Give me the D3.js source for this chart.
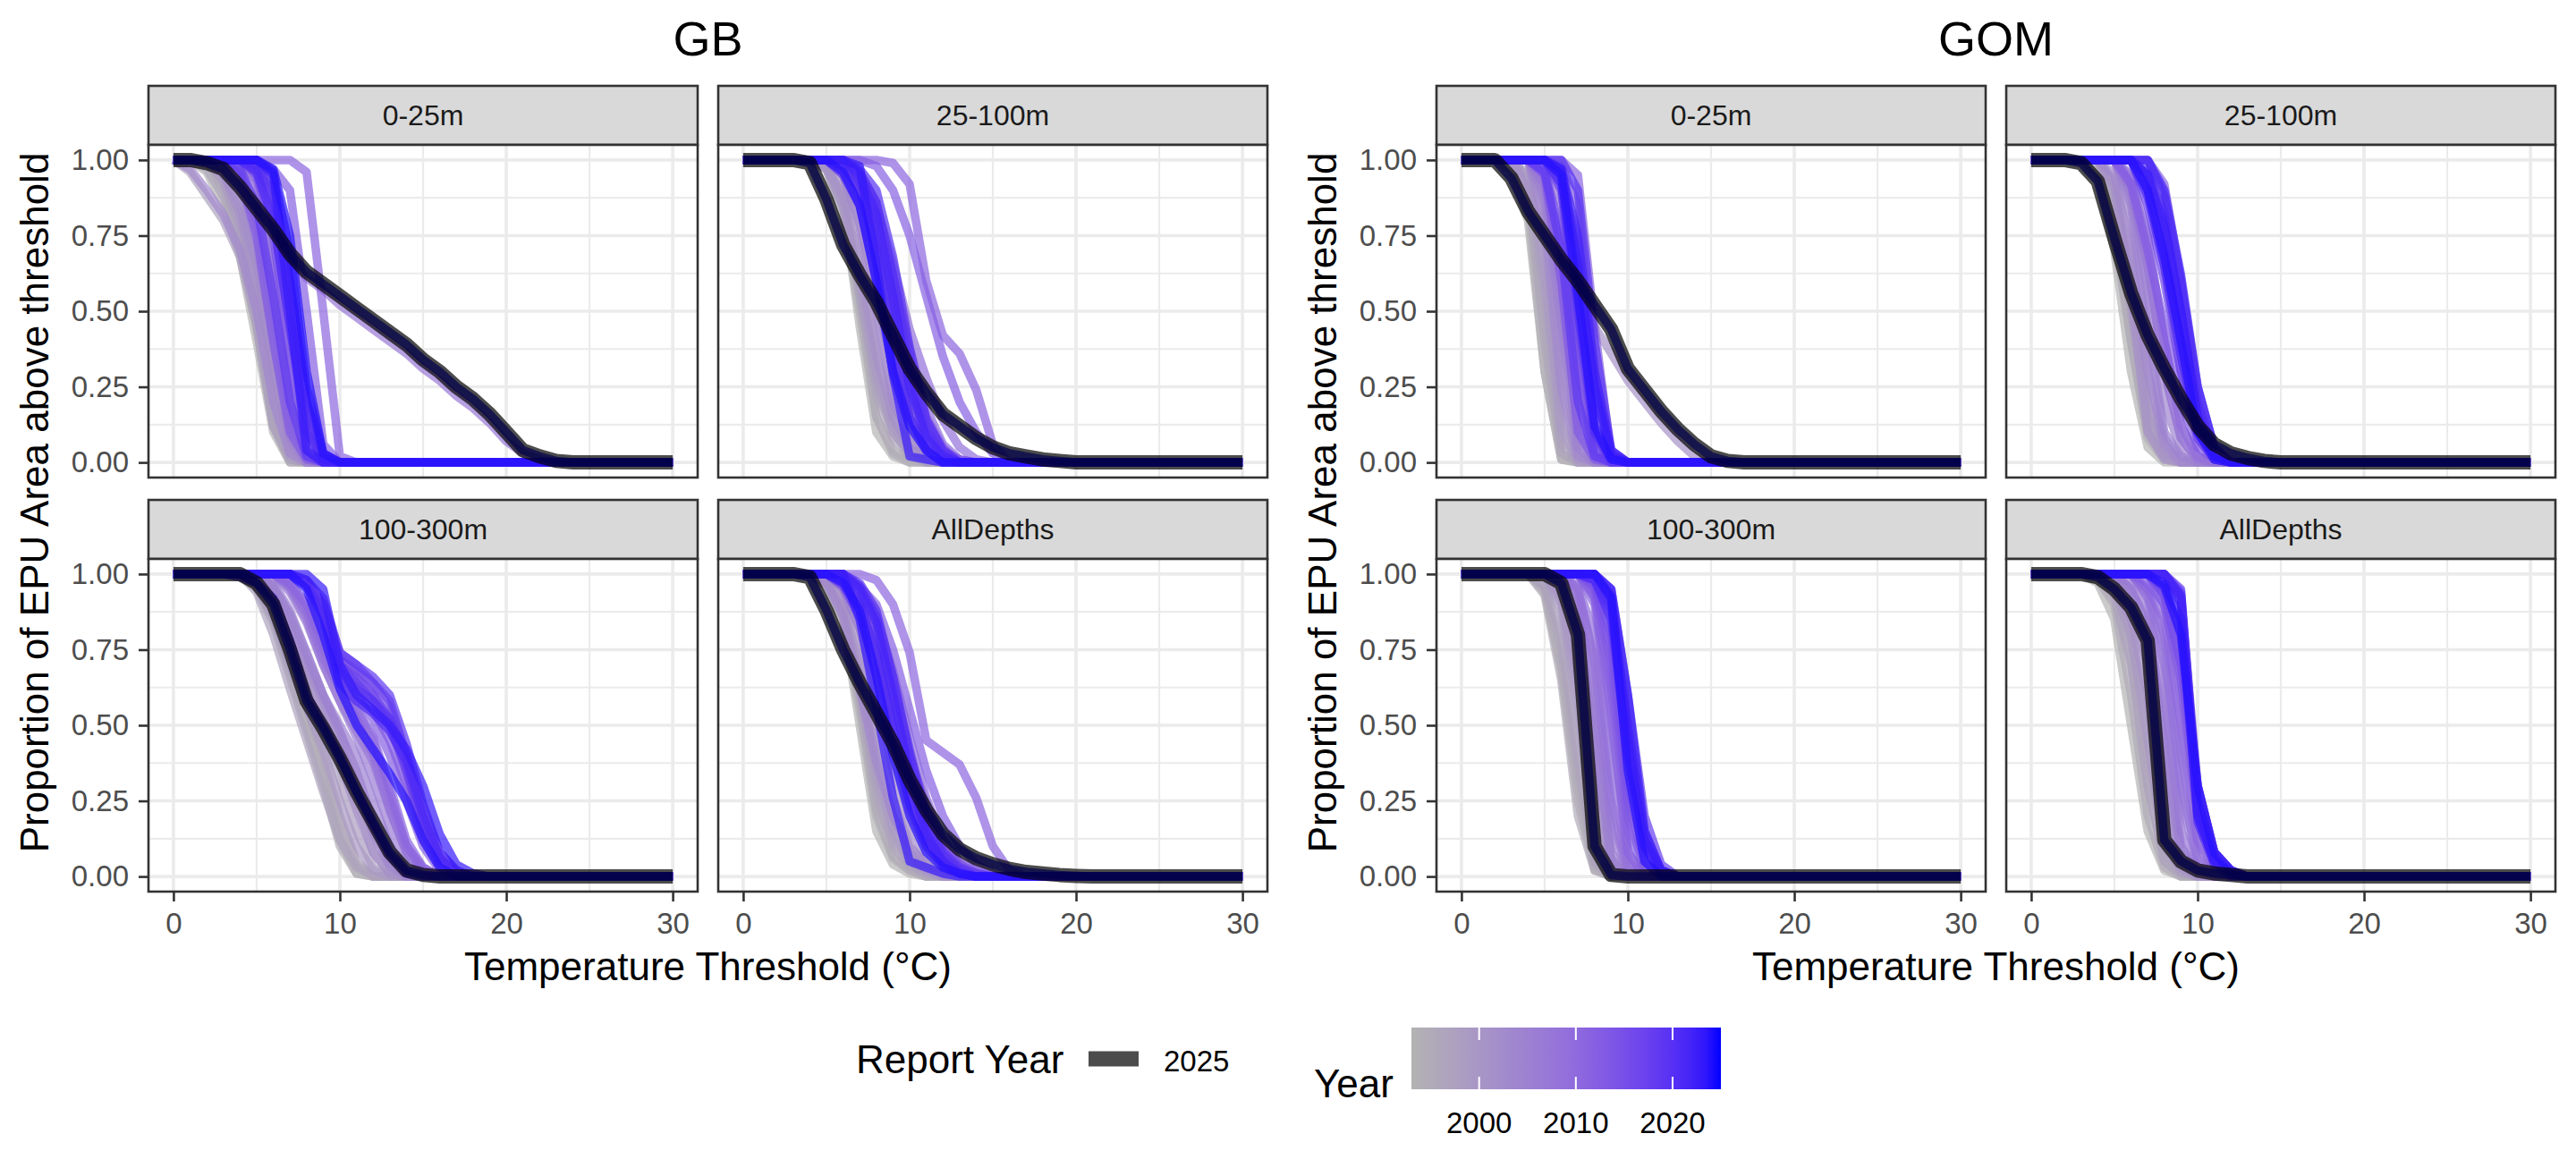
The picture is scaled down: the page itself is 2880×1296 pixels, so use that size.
<!DOCTYPE html>
<html>
<head>
<meta charset="utf-8">
<script src="https://cdn.jsdelivr.net/npm/d3@7"></script>
<style>
  body { margin: 0; background: #fff; }
  svg text { font-family: "Liberation Sans", Arial, sans-serif; }
</style>
</head>
<body>
<script>
(function () {
    "use strict";

    // ---- data -------------------------------------------------------------
    var thresholds = d3.range(0, 31);
    var regions = ["GB", "GOM"];
    var depths = ["0-25m", "25-100m", "100-300m", "AllDepths"];
    var xTicks = [0, 10, 20, 30];
    var xMinor = [5, 15, 25];
    var yTicks = [0, 0.25, 0.5, 0.75, 1];
    var yMinor = [0.125, 0.375, 0.625, 0.875];
    var yearDomain = [1993, 2025];
    var yearTicks = [2000, 2010, 2020];
    var reportYear = 2025;

    // each curve: [year, first threshold of the drop, values from there on]
    // (proportion is 1 before the listed block and 0 after it)
    var gb_0_25 = [
        [1993, 2, [.96, .85, .68, .4, .1, 0]],
        [1994, 3, [.92, .75, .5, .15, .01]],
        [1995, 3, [.9, .72, .45, .12, 0]],
        [1996, 2, [.97, .88, .72, .45, .12, .01]],
        [1997, 1, [.96, .88, .8, .68, .45, .12, .01]],
        [1998, 3, [.95, .82, .58, .25, .03]],
        [1999, 3, [.93, .78, .5, .2, .02]],
        [2000, 4, [.9, .65, .3, .05]],
        [2001, 3, [.95, .82, .6, .3, .05]],
        [2002, 3, [.96, .85, .65, .35, .08]],
        [2003, 1, [.97, .9, .82, .7, .5, .2, .03]],
        [2004, 4, [.94, .78, .45, .12, .01]],
        [2005, 4, [.93, .72, .4, .08]],
        [2006, 4, [.96, .82, .55, .2, .03]],
        [2007, 2, [.99, .96, .9, .83, .75, .67, .61, .57, .52, .48, .44, .4, .36, .31, .27, .22, .18, .13, .07, .03, .01]],
        [2008, 5, [.9, .6, .2, .02]],
        [2009, 4, [.96, .8, .5, .15, .02]],
        [2010, 5, [.93, .7, .3, .04]],
        [2011, 8, [.96, .5, .02]],
        [2012, 6, [.97, .9, .5, .06]],
        [2013, 4, [.95, .75, .4, .1, .01]],
        [2014, 5, [.96, .8, .45, .1, .01]],
        [2015, 5, [.95, .75, .35, .05]],
        [2016, 6, [.9, .55, .15, .01]],
        [2017, 5, [.97, .85, .5, .12, .01]],
        [2018, 6, [.92, .6, .2, .02]],
        [2019, 4, [.97, .85, .55, .2, .02]],
        [2020, 5, [.98, .88, .6, .2, .02]],
        [2021, 5, [.96, .8, .45, .1, .01]],
        [2022, 6, [.95, .7, .25, .03]],
        [2023, 6, [.96, .5, .04]],
        [2024, 6, [.97, .75, .3, .03]]
    ];
    var gb_25_100 = [
        [1993, 5, [.98, .85, .45, .1, .02]],
        [1994, 5, [.97, .82, .5, .15, .04, .01]],
        [1995, 5, [.97, .88, .55, .15, .03]],
        [1996, 5, [.98, .86, .58, .22, .08, .02]],
        [1997, 5, [.98, .85, .55, .25, .1, .03]],
        [1998, 5, [.97, .84, .6, .28, .1, .03]],
        [1999, 5, [.97, .85, .6, .3, .12, .04, .01]],
        [2000, 6, [.92, .7, .4, .15, .05, .01]],
        [2001, 5, [.98, .88, .65, .35, .15, .05, .01]],
        [2002, 6, [.95, .8, .55, .28, .1, .03]],
        [2003, 6, [.95, .78, .5, .2, .08, .02]],
        [2004, 6, [.96, .84, .6, .32, .12, .04]],
        [2005, 6, [.96, .85, .65, .4, .18, .06, .01]],
        [2006, 6, [.97, .88, .68, .42, .2, .07, .02]],
        [2007, 6, [.97, .88, .7, .45, .22, .08, .02]],
        [2008, 7, [.92, .75, .5, .28, .12, .04]],
        [2009, 7, [.95, .85, .66, .44, .28, .14, .05, .01]],
        [2010, 7, [.96, .85, .62, .38, .18, .06, .01]],
        [2011, 9, [.99, .92, .6, .42, .36, .24, .06]],
        [2012, 8, [.98, .9, .75, .55, .35, .2, .1, .03]],
        [2013, 6, [.97, .9, .72, .48, .25, .1, .03]],
        [2014, 7, [.94, .82, .6, .35, .15, .05]],
        [2015, 7, [.93, .78, .55, .3, .12, .04, .01]],
        [2016, 7, [.96, .86, .62, .36, .14, .04]],
        [2017, 6, [.95, .85, .6, .35, .15, .05, .01]],
        [2018, 7, [.93, .78, .52, .26, .1, .03]],
        [2019, 7, [.96, .86, .62, .3, .1, .03]],
        [2020, 7, [.97, .9, .68, .38, .14, .04]],
        [2021, 6, [.98, .9, .7, .4, .15, .04]],
        [2022, 7, [.95, .82, .55, .25, .08, .02]],
        [2023, 7, [.98, .66, .29, .02, .01]],
        [2024, 6, [.96, .85, .6, .3, .12, .04]]
    ];
    var gb_100_300 = [
        [1993, 5, [.96, .85, .68, .5, .33, .12, .01]],
        [1994, 5, [.95, .84, .66, .48, .3, .1, .01]],
        [1995, 5, [.97, .88, .72, .55, .38, .18, .04]],
        [1996, 5, [.97, .88, .72, .56, .4, .2, .05]],
        [1997, 5, [.94, .8, .62, .45, .28, .12, .03]],
        [1998, 6, [.92, .78, .62, .48, .32, .15, .03]],
        [1999, 5, [.96, .86, .7, .56, .42, .25, .1, .02]],
        [2000, 6, [.94, .82, .68, .55, .4, .24, .08, .01]],
        [2001, 6, [.95, .82, .66, .52, .38, .22, .08, .01]],
        [2002, 6, [.95, .85, .7, .58, .45, .3, .14, .03]],
        [2003, 6, [.96, .86, .72, .6, .48, .32, .15, .04]],
        [2004, 6, [.96, .87, .74, .6, .48, .35, .18, .05]],
        [2005, 6, [.97, .88, .74, .6, .5, .4, .25, .1, .02]],
        [2006, 7, [.94, .84, .7, .58, .46, .32, .16, .04]],
        [2007, 7, [.95, .85, .7, .58, .48, .38, .22, .08, .02]],
        [2008, 7, [.96, .88, .74, .62, .52, .4, .22, .08, .01]],
        [2009, 7, [.96, .87, .72, .62, .52, .4, .25, .1, .03]],
        [2010, 7, [.97, .9, .76, .64, .55, .45, .28, .1, .02]],
        [2011, 7, [.97, .9, .78, .66, .56, .46, .3, .12, .03]],
        [2012, 8, [.96, .84, .68, .6, .52, .4, .25, .1, .02]],
        [2013, 8, [.97, .85, .68, .62, .55, .45, .3, .12, .03]],
        [2014, 8, [.98, .9, .72, .66, .6, .5, .34, .16, .04]],
        [2015, 8, [.98, .9, .72, .68, .64, .58, .4, .2, .06, .01]],
        [2016, 8, [.97, .9, .74, .7, .64, .56, .4, .2, .06, .01]],
        [2017, 8, [.97, .88, .7, .66, .6, .52, .35, .15, .04]],
        [2018, 8, [.98, .9, .7, .64, .58, .5, .36, .18, .05]],
        [2019, 8, [.98, .92, .74, .7, .66, .6, .44, .24, .08, .02]],
        [2020, 8, [.97, .88, .68, .62, .58, .52, .4, .22, .08, .02]],
        [2021, 8, [.96, .86, .64, .58, .54, .48, .38, .2, .06, .01]],
        [2022, 4, [.99, .97, .92, .78, .6, .5, .4, .28, .17, .07, .01]],
        [2023, 9, [.95, .7, .6, .55, .5, .42, .3, .14, .04, .01]],
        [2024, 8, [.95, .8, .62, .5, .42, .34, .25, .12, .03]]
    ];
    var gb_all = [
        [1993, 5, [.97, .85, .5, .15, .04, .01]],
        [1994, 5, [.96, .84, .55, .2, .06, .02]],
        [1995, 5, [.96, .86, .58, .22, .07, .02]],
        [1996, 5, [.97, .87, .6, .26, .1, .03]],
        [1997, 5, [.97, .88, .62, .3, .12, .04, .01]],
        [1998, 5, [.97, .88, .64, .33, .14, .05, .01]],
        [1999, 5, [.97, .88, .66, .36, .16, .06, .02]],
        [2000, 6, [.92, .75, .5, .26, .1, .03]],
        [2001, 5, [.98, .9, .7, .42, .2, .08, .02]],
        [2002, 6, [.95, .82, .6, .35, .16, .06, .02]],
        [2003, 5, [.97, .86, .62, .38, .2, .1, .04, .01]],
        [2004, 6, [.96, .85, .66, .42, .22, .1, .03]],
        [2005, 6, [.95, .82, .62, .4, .22, .1, .04, .01]],
        [2006, 6, [.97, .88, .72, .5, .28, .12, .04, .01]],
        [2007, 6, [.96, .86, .7, .5, .3, .15, .06, .02]],
        [2008, 7, [.94, .82, .62, .4, .22, .1, .04]],
        [2009, 7, [.93, .8, .6, .4, .24, .12, .05, .02]],
        [2010, 7, [.96, .86, .68, .46, .26, .12, .05, .01]],
        [2011, 8, [.98, .9, .74, .45, .41, .37, .26, .1, .02]],
        [2012, 7, [.96, .9, .75, .55, .35, .2, .1, .04, .01]],
        [2013, 6, [.97, .9, .75, .52, .3, .14, .06, .02]],
        [2014, 7, [.94, .8, .58, .36, .18, .08, .03]],
        [2015, 7, [.95, .82, .62, .4, .22, .1, .04, .01]],
        [2016, 7, [.96, .86, .64, .4, .2, .08, .03]],
        [2017, 6, [.96, .86, .68, .45, .25, .12, .05, .02]],
        [2018, 6, [.98, .9, .72, .46, .24, .1, .04, .01]],
        [2019, 7, [.96, .86, .66, .42, .2, .08, .03, .01]],
        [2020, 7, [.97, .88, .66, .4, .18, .07, .02]],
        [2021, 6, [.98, .9, .74, .5, .28, .12, .04, .01]],
        [2022, 7, [.95, .84, .6, .34, .14, .05, .01]],
        [2023, 7, [.85, .56, .26, .05, .03, .01]],
        [2024, 6, [.97, .88, .66, .4, .2, .08, .03, .01]]
    ];
    var gom_0_25 = [
        [1993, 3, [.97, .8, .3, .01]],
        [1994, 4, [.85, .3, .01]],
        [1995, 4, [.9, .45, .03]],
        [1996, 4, [.9, .4, .03]],
        [1997, 4, [.93, .55, .06]],
        [1998, 4, [.94, .6, .1]],
        [1999, 4, [.95, .65, .12, .01]],
        [2000, 5, [.75, .2, .01]],
        [2001, 4, [.9, .75, .64, .56, .45, .36, .27, .2, .13, .07, .02]],
        [2002, 5, [.85, .35, .03]],
        [2003, 5, [.8, .25, .02]],
        [2004, 5, [.9, .5, .08]],
        [2005, 5, [.88, .45, .05]],
        [2006, 5, [.92, .55, .12, .01]],
        [2007, 5, [.92, .6, .15, .02]],
        [2008, 6, [.85, .3, .02]],
        [2009, 5, [.95, .7, .25, .03]],
        [2010, 6, [.92, .55, .1]],
        [2011, 7, [.95, .45, .02]],
        [2012, 6, [.98, .85, .3, .03]],
        [2013, 5, [.95, .6, .1, .01]],
        [2014, 6, [.95, .6, .15, .01]],
        [2015, 5, [.97, .75, .3, .04]],
        [2016, 6, [.94, .55, .1]],
        [2017, 6, [.9, .45, .08]],
        [2018, 6, [.96, .7, .25, .03]],
        [2019, 5, [.96, .7, .2, .02]],
        [2020, 7, [.9, .4, .04]],
        [2021, 6, [.92, .5, .1, .01]],
        [2022, 6, [.97, .75, .3, .04]],
        [2023, 6, [.97, .65, .25, .02]],
        [2024, 6, [.95, .55, .12, .01]]
    ];
    var gom_25_100 = [
        [1993, 4, [.95, .7, .3, .05]],
        [1994, 5, [.8, .4, .08, .01]],
        [1995, 4, [.96, .75, .4, .1, .02]],
        [1996, 5, [.88, .5, .12, .02]],
        [1997, 5, [.85, .5, .15, .03]],
        [1998, 5, [.9, .55, .15, .02]],
        [1999, 5, [.9, .6, .2, .04]],
        [2000, 5, [.93, .65, .25, .05]],
        [2001, 5, [.92, .55, .1, .01]],
        [2002, 6, [.8, .4, .08, .01]],
        [2003, 5, [.95, .7, .3, .06]],
        [2004, 6, [.88, .55, .2, .04]],
        [2005, 6, [.85, .45, .1, .02]],
        [2006, 6, [.92, .65, .3, .08, .01]],
        [2007, 6, [.9, .65, .3, .08, .01]],
        [2008, 6, [.94, .72, .4, .12, .02]],
        [2009, 6, [.95, .75, .4, .12, .02]],
        [2010, 7, [.9, .65, .3, .08, .01]],
        [2011, 8, [.92, .6, .2, .03]],
        [2012, 7, [.94, .75, .45, .15, .03]],
        [2013, 6, [.92, .7, .45, .2, .05, .01]],
        [2014, 7, [.92, .7, .4, .12, .02]],
        [2015, 7, [.9, .7, .4, .12, .02]],
        [2016, 7, [.95, .8, .5, .18, .03]],
        [2017, 7, [.85, .6, .3, .08, .01]],
        [2018, 8, [.88, .6, .25, .05]],
        [2019, 7, [.92, .72, .45, .15, .03]],
        [2020, 7, [.96, .82, .5, .15, .02]],
        [2021, 7, [.88, .65, .35, .1, .02]],
        [2022, 8, [.9, .62, .25, .05]],
        [2023, 7, [.95, .78, .5, .15, .02]],
        [2024, 7, [.9, .68, .4, .1, .01]]
    ];
    var gom_100_300 = [
        [1993, 5, [.95, .7, .3, .03]],
        [1994, 5, [.94, .68, .25, .02]],
        [1995, 5, [.93, .65, .2, .02]],
        [1996, 5, [.96, .75, .35, .04]],
        [1997, 5, [.96, .8, .4, .05]],
        [1998, 6, [.88, .55, .12, .01]],
        [1999, 6, [.9, .6, .15, .01]],
        [2000, 6, [.92, .65, .2, .02]],
        [2001, 6, [.95, .75, .3, .03]],
        [2002, 6, [.96, .8, .4, .05]],
        [2003, 6, [.97, .85, .45, .05]],
        [2004, 7, [.88, .45, .06]],
        [2005, 7, [.9, .5, .08]],
        [2006, 7, [.93, .6, .15, .01]],
        [2007, 7, [.95, .7, .2, .02]],
        [2008, 7, [.95, .72, .25, .03]],
        [2009, 7, [.96, .8, .35, .05]],
        [2010, 8, [.9, .5, .08]],
        [2011, 8, [.92, .55, .08]],
        [2012, 8, [.93, .62, .15, .02]],
        [2013, 8, [.95, .7, .2, .03]],
        [2014, 8, [.96, .75, .25, .05]],
        [2015, 8, [.97, .8, .3, .08, .01]],
        [2016, 9, [.92, .5, .12, .02]],
        [2017, 8, [.98, .9, .5, .15, .02]],
        [2018, 9, [.95, .6, .2, .04]],
        [2019, 9, [.9, .4, .1, .01]],
        [2020, 8, [.98, .88, .45, .12, .02]],
        [2021, 8, [.98, .85, .4, .12, .02]],
        [2022, 9, [.93, .45, .1, .01]],
        [2023, 9, [.95, .6, .15, .02]],
        [2024, 9, [.92, .35, .05]]
    ];
    var gom_all = [
        [1993, 4, [.97, .85, .5, .15, .02]],
        [1994, 5, [.93, .72, .3, .05]],
        [1995, 4, [.98, .9, .6, .2, .03]],
        [1996, 5, [.95, .78, .4, .08, .01]],
        [1997, 5, [.92, .7, .3, .05, .01]],
        [1998, 5, [.96, .82, .5, .12, .02]],
        [1999, 5, [.95, .8, .45, .1, .02]],
        [2000, 6, [.9, .7, .25, .04]],
        [2001, 5, [.96, .85, .6, .15, .03]],
        [2002, 6, [.93, .78, .38, .07, .01]],
        [2003, 6, [.92, .75, .3, .05, .01]],
        [2004, 6, [.95, .84, .5, .1, .02]],
        [2005, 6, [.95, .82, .45, .08, .02]],
        [2006, 7, [.92, .7, .25, .05, .01]],
        [2007, 6, [.97, .88, .6, .15, .03]],
        [2008, 7, [.94, .8, .4, .1, .02]],
        [2009, 7, [.93, .75, .3, .06, .02]],
        [2010, 8, [.9, .6, .2, .05, .01]],
        [2011, 7, [.95, .85, .5, .12, .03]],
        [2012, 8, [.93, .7, .25, .06, .01]],
        [2013, 7, [.97, .9, .65, .2, .05, .01]],
        [2014, 8, [.95, .78, .3, .08, .02]],
        [2015, 8, [.93, .7, .3, .08, .02]],
        [2016, 9, [.92, .3, .08, .02]],
        [2017, 8, [.95, .8, .25, .06, .01]],
        [2018, 9, [.94, .22, .05, .01]],
        [2019, 9, [.95, .25, .06, .01]],
        [2020, 9, [.9, .2, .05, .01]],
        [2021, 9, [.92, .18, .04]],
        [2022, 9, [.93, .25, .06, .01]],
        [2023, 8, [.97, .85, .2, .05, .01]],
        [2024, 8, [.96, .8, .3, .08, .02]]
    ];

    // report year (2025) curves, thresholds 0..30
    var gb_0_25_report = [1, 1, .99, .97, .91, .84, .77, .69, .63, .59, .55, .51, .47, .43, .39, .34, .3, .25, .21, .16, .1, .04, .02, .005, 0, 0, 0, 0, 0, 0, 0];
    var gb_25_100_report = [1, 1, 1, 1, .99, .87, .72, .62, .53, .42, .31, .23, .16, .12, .08, .05, .03, .02, .01, .005, 0, 0, 0, 0, 0, 0, 0, 0, 0, 0, 0];
    var gb_100_300_report = [1, 1, 1, 1, 1, .97, .9, .75, .58, .49, .39, .28, .18, .08, .02, .005, 0, 0, 0, 0, 0, 0, 0, 0, 0, 0, 0, 0, 0, 0, 0];
    var gb_all_report = [1, 1, 1, 1, .99, .88, .75, .64, .54, .44, .32, .22, .14, .09, .06, .04, .025, .015, .01, .005, .002, 0, 0, 0, 0, 0, 0, 0, 0, 0, 0];
    var gom_0_25_report = [1, 1, 1, .94, .83, .75, .67, .6, .52, .44, .31, .24, .17, .11, .06, .02, .005, 0, 0, 0, 0, 0, 0, 0, 0, 0, 0, 0, 0, 0, 0];
    var gom_25_100_report = [1, 1, 1, .99, .93, .74, .56, .42, .31, .21, .12, .06, .03, .015, .005, 0, 0, 0, 0, 0, 0, 0, 0, 0, 0, 0, 0, 0, 0, 0, 0];
    var gom_100_300_report = [1, 1, 1, 1, 1, 1, .97, .8, .1, .005, 0, 0, 0, 0, 0, 0, 0, 0, 0, 0, 0, 0, 0, 0, 0, 0, 0, 0, 0, 0, 0];
    var gom_all_report = [1, 1, 1, 1, .99, .95, .89, .78, .12, .05, .02, .01, .005, 0, 0, 0, 0, 0, 0, 0, 0, 0, 0, 0, 0, 0, 0, 0, 0, 0, 0];

    var curves = {
        GB: [gb_0_25, gb_25_100, gb_100_300, gb_all],
        GOM: [gom_0_25, gom_25_100, gom_100_300, gom_all]
    };
    var reports = {
        GB: [gb_0_25_report, gb_25_100_report, gb_100_300_report, gb_all_report],
        GOM: [gom_0_25_report, gom_25_100_report, gom_100_300_report, gom_all_report]
    };

    function expand(start, vals) {
        return thresholds.map(function (t) {
            if (t < start) return 1;
            var i = t - start;
            return i < vals.length ? vals[i] : 0;
        });
    }

    // ---- layout -----------------------------------------------------------
    var W = 2880, H = 1296;
    var regionWidth = 1440;
    var panelLeft = [166, 803];
    var panelW = 614, panelH = 372;
    var stripTop = [96, 559];
    var stripH = 66;
    var border = "#333333";

    var svg = d3.select("body").append("svg")
        .attr("width", W)
        .attr("height", H);

    svg.append("rect")
        .attr("width", W)
        .attr("height", H)
        .attr("fill", "#ffffff");

    var x = d3.scaleLinear().domain([-1.5, 31.5]).range([0, panelW]);
    var y = d3.scaleLinear().domain([-0.05, 1.05]).range([panelH, 0]);
    var color = d3.scaleLinear()
        .domain([yearDomain[0], (yearDomain[0] + yearDomain[1]) / 2, yearDomain[1]])
        .range(["#b3b3b3", "#9370db", "#0000ff"])
        .interpolate(d3.interpolateLab);

    var line = d3.line()
        .x(function (d, i) { return x(thresholds[i]); })
        .y(function (d) { return y(d); });

    regions.forEach(function (region, r) {
        var g = svg.append("g")
            .attr("transform", "translate(" + (r * regionWidth) + ",0)");
        var midX = (panelLeft[0] + panelLeft[1] + panelW) / 2;

        g.append("text")
            .attr("x", midX)
            .attr("y", 62)
            .attr("text-anchor", "middle")
            .attr("font-size", 54)
            .attr("fill", "#000")
            .text(region);

        // axis titles
        g.append("text")
            .attr("x", midX)
            .attr("y", 1096)
            .attr("text-anchor", "middle")
            .attr("font-size", 44)
            .attr("fill", "#000")
            .text("Temperature Threshold (\u00B0C)");

        g.append("text")
            .attr("transform", "translate(54," + 562 + ") rotate(-90)")
            .attr("text-anchor", "middle")
            .attr("font-size", 44)
            .attr("fill", "#000")
            .text("Proportion of EPU Area above threshold");

        depths.forEach(function (depth, k) {
            var col = k % 2, row = Math.floor(k / 2);
            var p = g.append("g")
                .attr("transform", "translate(" + panelLeft[col] + "," + (stripTop[row] + stripH) + ")");

            // strip
            p.append("rect")
                .attr("y", -stripH)
                .attr("width", panelW)
                .attr("height", stripH)
                .attr("fill", "#d9d9d9")
                .attr("stroke", border)
                .attr("stroke-width", 2.6);
            p.append("text")
                .attr("x", panelW / 2)
                .attr("y", -stripH / 2 + 11)
                .attr("text-anchor", "middle")
                .attr("font-size", 32)
                .attr("fill", "#1a1a1a")
                .text(depth);

            p.append("rect")
                .attr("width", panelW)
                .attr("height", panelH)
                .attr("fill", "#ffffff");

            // grid
            p.selectAll(".gxm").data(xMinor).enter().append("line")
                .attr("x1", x).attr("x2", x).attr("y1", 0).attr("y2", panelH)
                .attr("stroke", "#ebebeb").attr("stroke-width", 2.2);
            p.selectAll(".gym").data(yMinor).enter().append("line")
                .attr("y1", y).attr("y2", y).attr("x1", 0).attr("x2", panelW)
                .attr("stroke", "#ebebeb").attr("stroke-width", 2.2);
            p.selectAll(".gx").data(xTicks).enter().append("line")
                .attr("x1", x).attr("x2", x).attr("y1", 0).attr("y2", panelH)
                .attr("stroke", "#ebebeb").attr("stroke-width", 3.6);
            p.selectAll(".gy").data(yTicks).enter().append("line")
                .attr("y1", y).attr("y2", y).attr("x1", 0).attr("x2", panelW)
                .attr("stroke", "#ebebeb").attr("stroke-width", 3.6);

            // yearly curves, oldest first, then the report year on top
            var lines = p.append("g")
                .attr("fill", "none")
                .attr("stroke-linejoin", "round")
                .attr("stroke-linecap", "butt");
            curves[region][k].slice()
                .sort(function (a, b) { return a[0] - b[0]; })
                .forEach(function (c) {
                    lines.append("path")
                        .attr("d", line(expand(c[1], c[2])))
                        .attr("stroke", color(c[0]))
                        .attr("stroke-opacity", 0.7)
                        .attr("stroke-width", 9.5);
                });
            lines.append("path")
                .attr("d", line(reports[region][k]))
                .attr("stroke", color(reportYear))
                .attr("stroke-opacity", 0.7)
                .attr("stroke-width", 9.5);
            lines.append("path")
                .attr("d", line(reports[region][k]))
                .attr("stroke", "#000")
                .attr("stroke-opacity", 0.7)
                .attr("stroke-width", 16);

            p.append("rect")
                .attr("width", panelW)
                .attr("height", panelH)
                .attr("fill", "none")
                .attr("stroke", border)
                .attr("stroke-width", 2.6);

            // axes only on the outer side
            if (col === 0) {
                var ay = p.append("g")
                    .call(d3.axisLeft(y).tickValues(yTicks).tickSize(11).tickPadding(11)
                        .tickFormat(d3.format(".2f")));
                styleAxis(ay);
            }
            if (row === 1) {
                var ax = p.append("g")
                    .attr("transform", "translate(0," + panelH + ")")
                    .call(d3.axisBottom(x).tickValues(xTicks).tickSize(11).tickPadding(13));
                styleAxis(ax);
            }
        });
    });

    function styleAxis(a) {
        a.select(".domain").remove();
        a.selectAll(".tick line")
            .attr("stroke", border)
            .attr("stroke-width", 2.6);
        a.selectAll(".tick text")
            .attr("font-size", 33)
            .attr("font-family", "Liberation Sans, Arial, sans-serif")
            .attr("fill", "#4d4d4d");
    }

    // ---- legends ----------------------------------------------------------
    var leg = svg.append("g");
    leg.append("text")
        .attr("x", 957).attr("y", 1200)
        .attr("font-size", 44).attr("fill", "#000")
        .text("Report Year");
    leg.append("line")
        .attr("x1", 1217).attr("x2", 1273)
        .attr("y1", 1184).attr("y2", 1184)
        .attr("stroke", "#000").attr("stroke-opacity", 0.7)
        .attr("stroke-width", 17);
    leg.append("text")
        .attr("x", 1301).attr("y", 1198)
        .attr("font-size", 33).attr("fill", "#000")
        .text(String(reportYear));

    leg.append("text")
        .attr("x", 1469).attr("y", 1227)
        .attr("font-size", 44).attr("fill", "#000")
        .text("Year");

    var barX = 1578, barY = 1149, barW = 346, barH = 69;
    var yearScale = d3.scaleLinear().domain(yearDomain).range([barX, barX + barW]);
    var grad = svg.append("defs").append("linearGradient")
        .attr("id", "yearGrad")
        .attr("x1", "0%").attr("x2", "100%").attr("y1", "0%").attr("y2", "0%");
    d3.range(0, 1.0001, 0.05).forEach(function (f) {
        grad.append("stop")
            .attr("offset", (f * 100) + "%")
            .attr("stop-color", color(yearDomain[0] + f * (yearDomain[1] - yearDomain[0])));
    });
    leg.append("rect")
        .attr("x", barX).attr("y", barY)
        .attr("width", barW).attr("height", barH)
        .attr("fill", "url(#yearGrad)");
    yearTicks.forEach(function (yr) {
        var tx = yearScale(yr);
        leg.append("line")
            .attr("x1", tx).attr("x2", tx).attr("y1", barY).attr("y2", barY + 14)
            .attr("stroke", "#fff").attr("stroke-width", 2);
        leg.append("line")
            .attr("x1", tx).attr("x2", tx).attr("y1", barY + barH - 14).attr("y2", barY + barH)
            .attr("stroke", "#fff").attr("stroke-width", 2);
        leg.append("text")
            .attr("x", tx).attr("y", 1267)
            .attr("text-anchor", "middle")
            .attr("font-size", 33).attr("fill", "#000")
            .text(yr);
    });
})();
</script>
</body>
</html>
